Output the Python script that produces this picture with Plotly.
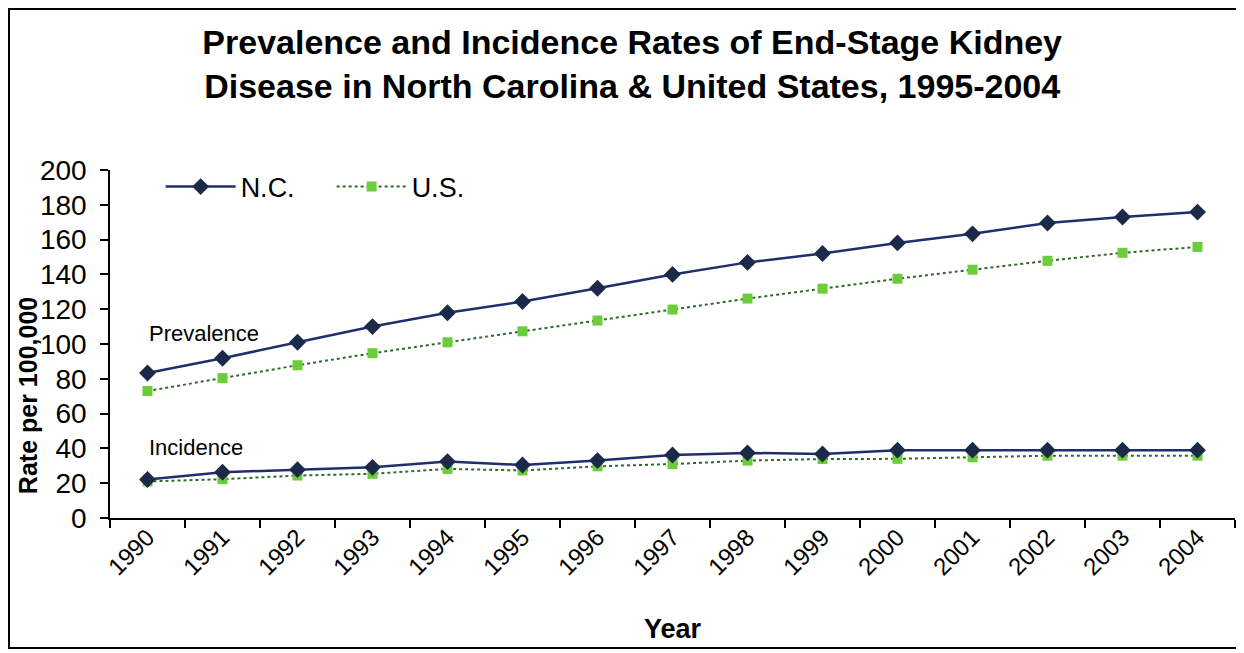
import plotly.graph_objects as go

years = [str(y) for y in range(1990, 2005)]
nc_prev = [83.3, 91.8, 101.0, 110.0, 118.0, 124.4, 132.0, 140.0, 146.9, 152.0, 158.1, 163.3, 169.5, 173.0, 175.8]
us_prev = [73.0, 80.4, 87.8, 94.7, 101.0, 107.3, 113.5, 119.8, 126.1, 131.8, 137.5, 142.7, 147.8, 152.4, 155.8]
nc_inc = [22.1, 26.3, 27.8, 29.1, 32.4, 30.5, 33.0, 36.2, 37.4, 36.8, 39.0, 39.0, 39.0, 39.0, 39.0]
us_inc = [21.0, 22.3, 24.4, 25.4, 28.2, 27.3, 29.7, 31.0, 33.0, 33.9, 34.0, 34.9, 35.8, 35.8, 35.8]

FONT = "Liberation Sans, Arial, sans-serif"
NC_LINE = "#1f2f6e"
NC_MARK = "#1b2a48"
US_LINE = "#2f6a2a"
US_MARK = "#6ccd3a"

fig = go.Figure()
fig.add_trace(go.Scatter(x=years, y=nc_prev, name="N.C.", mode="lines+markers",
                         line=dict(color=NC_LINE, width=2.5),
                         marker=dict(symbol="diamond", size=13, color=NC_MARK),
                         legendgroup="nc"))
fig.add_trace(go.Scatter(x=years, y=us_prev, name="U.S.", mode="lines+markers",
                         line=dict(color=US_LINE, width=2, dash="dot"),
                         marker=dict(symbol="square", size=10, color=US_MARK),
                         legendgroup="us"))
fig.add_trace(go.Scatter(x=years, y=us_inc, name="U.S.", mode="lines+markers",
                         line=dict(color=US_LINE, width=2, dash="dot"),
                         marker=dict(symbol="square", size=10, color=US_MARK),
                         legendgroup="us", showlegend=False))
fig.add_trace(go.Scatter(x=years, y=nc_inc, name="N.C.", mode="lines+markers",
                         line=dict(color=NC_LINE, width=2.5),
                         marker=dict(symbol="diamond", size=13, color=NC_MARK),
                         legendgroup="nc", showlegend=False))

fig.add_annotation(xref="paper", yref="y", x=0.033, y=106, text="Prevalence", showarrow=False,
                   xanchor="left", yanchor="middle", font=dict(family=FONT, size=22, color="black"))
fig.add_annotation(xref="paper", yref="y", x=0.033, y=40.5, text="Incidence", showarrow=False,
                   xanchor="left", yanchor="middle", font=dict(family=FONT, size=22, color="black"))

# y-axis title (sits below the axis centre in the original)
fig.add_annotation(xref="paper", yref="paper", x=-0.0729, y=0.353, text="<b>Rate per 100,000</b>",
                   textangle=-90, showarrow=False, xanchor="center", yanchor="middle",
                   font=dict(family=FONT, size=25, color="black"))

# outer chart border
fig.add_shape(type="rect", xref="paper", yref="paper",
              x0=-0.0898, x1=1.0027, y0=-0.3736, y1=1.4626,
              line=dict(color="black", width=2), fillcolor="rgba(0,0,0,0)", layer="below")

fig.update_layout(
    width=1236, height=645,
    margin=dict(l=102, r=9, t=162, b=135),
    paper_bgcolor="white", plot_bgcolor="white",
    font=dict(family=FONT, color="black"),
    title=dict(text="<b>Prevalence and Incidence Rates of End-Stage Kidney<br>Disease in North Carolina &amp; United States, 1995-2004</b>",
               x=0.505, xanchor="center", y=0.929, yref="container", yanchor="middle",
               font=dict(family=FONT, size=34, color="black")),
    showlegend=True,
    legend=dict(orientation="h", x=0.045, y=0.951, xanchor="left", yanchor="middle",
                font=dict(family=FONT, size=27, color="black"),
                bgcolor="rgba(0,0,0,0)", itemwidth=70, entrywidth=86, entrywidthmode="pixels",
                tracegroupgap=0),
    xaxis=dict(type="category", tickson="boundaries", ticks="outside", ticklen=8,
               tickcolor="black", tickwidth=1.5, showline=True, linecolor="black", linewidth=1.5,
               showgrid=False, tickangle=-45, tickfont=dict(family=FONT, size=24, color="black"),
               ticklabelstandoff=-6,
               title=dict(text="<b>Year</b>", font=dict(family=FONT, size=27, color="black"), standoff=40),
               range=[-0.5, 14.5]),
    yaxis=dict(range=[0, 200], dtick=20, ticks="outside", ticklen=8, tickcolor="black", tickwidth=1.5,
               showline=True, linecolor="black", linewidth=1.5, showgrid=False, zeroline=False,
               tickfont=dict(family=FONT, size=28, color="black"), ticklabelstandoff=8),
)

fig.write_html("out.html")
